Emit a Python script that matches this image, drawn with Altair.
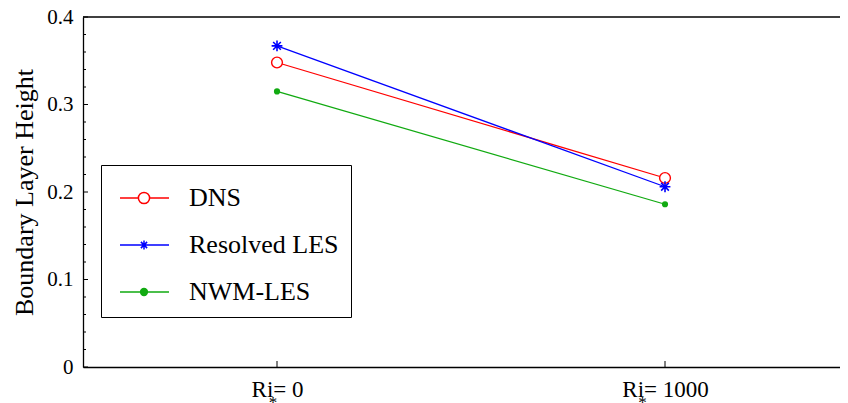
import altair as alt
import pandas as pd

# ---- data ----
series = ["DNS", "Resolved LES", "NWM-LES"]
x_pos = [1, 2]
x_labels = ["Ri= 0", "Ri= 1000"]
x_sub = ["*", "*"]
dns = [0.348, 0.216]
les = [0.367, 0.206]
nwm = [0.315, 0.186]
colors = ["#ff0000", "#0000ff", "#11aa11"]

y_major = [0, 0.1, 0.2, 0.3, 0.4]
y_minor = [0.02, 0.04, 0.06, 0.08, 0.12, 0.14, 0.16, 0.18, 0.22, 0.24, 0.26,
           0.28, 0.32, 0.34, 0.36, 0.38]

rows = []
for name, vals in zip(series, [dns, les, nwm]):
    for xp, v in zip(x_pos, vals):
        rows.append({"series": name, "x": xp, "value": v})
df = pd.DataFrame(rows)

FONT = "Times New Roman, Liberation Serif, serif"
xscale = alt.Scale(domain=[0.5, 2.451], nice=False, zero=False)
yscale = alt.Scale(domain=[0, 0.4], nice=False)

label_expr = " : ".join(
    [f"datum.value == {p} ? '{l}'" for p, l in zip(x_pos, x_labels)]
) + " : ''"

X = alt.X("x:Q", scale=xscale, title=None,
          axis=alt.Axis(values=x_pos, labelExpr=label_expr, ticks=False, tickSize=0,
                        grid=False, labelFont=FONT, labelFontSize=23, labelColor="black",
                        labelPadding=11, domainColor="black", domainWidth=1.3))
Y = alt.Y("value:Q", scale=yscale, title="Boundary Layer Height",
          axis=alt.Axis(values=y_major, format="~g", ticks=False, tickSize=0, grid=False,
                        labelFont=FONT, labelFontSize=21, labelColor="black",
                        labelPadding=10, domainColor="black", domainWidth=1.3,
                        titleFont=FONT, titleFontSize=26, titleFontWeight="normal",
                        titleColor="black", titlePadding=9))

base = alt.Chart(df)

lines = base.mark_line(strokeWidth=1.3).encode(
    x=X, y=Y,
    color=alt.Color("series:N", scale=alt.Scale(domain=series, range=colors), legend=None),
    detail="series:N",
)

circle_path = "M0.9,0A0.9,0.9 0 1 1 -0.9,0A0.9,0.9 0 1 1 0.9,0Z"
star_path = ("M0,-0.9V0.9M-0.9,0H0.9M-0.64,-0.64L0.64,0.64M-0.64,0.64L0.64,-0.64")

pts_dns = base.transform_filter(alt.datum.series == "DNS").mark_point(
    shape=circle_path, size=144, stroke=colors[0], fill="white", fillOpacity=1,
    strokeWidth=1.4, opacity=1).encode(x=X, y=Y)
pts_les = base.transform_filter(alt.datum.series == "Resolved LES").mark_point(
    shape=star_path, size=144, stroke=colors[1], strokeWidth=1.6, opacity=1,
    filled=False).encode(x=X, y=Y)
pts_nwm = base.transform_filter(alt.datum.series == "NWM-LES").mark_point(
    shape="circle", size=38, color=colors[2], filled=True, opacity=1).encode(x=X, y=Y)

# legend symbols: line + marker, in symbol units
c = 0.5
L0, L1 = -0.7, 1.75
rc = 0.28
leg_dns = (f"M{L0},0H{c - rc}M{c + rc},0H{L1}"
           f"M{c + rc},0A{rc},{rc} 0 1 1 {c - rc},0A{rc},{rc} 0 1 1 {c + rc},0")
a, d = 0.22, 0.156
leg_les = (f"M{L0},0H{L1}M{c},{-a}V{a}M{c - a},0H{c + a}"
           f"M{c - d},{-d}L{c + d},{d}M{c - d},{d}L{c + d},{-d}")
dot = ""
for r in [0.17, 0.12, 0.07, 0.02]:
    dot += f"M{c + r},0A{r},{r} 0 1 1 {c - r},0A{r},{r} 0 1 1 {c + r},0"
leg_nwm = f"M{L0},0H{L1}" + dot

leg_kw = dict(title=None, orient="none", legendX=18, legendY=148, padding=12,
              rowPadding=13, symbolSize=1600, labelOffset=34, labelFont=FONT,
              labelFontSize=26, labelColor="black", strokeColor="black",
              fillColor="white", symbolStrokeWidth=1.5,
              labelExpr="datum.label + '\u00a0'")

legend_layer = base.transform_filter("false").mark_point(
    filled=False, strokeWidth=1.5, opacity=1).encode(
    x=X, y=Y,
    color=alt.Color("series:N", scale=alt.Scale(domain=series, range=colors),
                    legend=alt.Legend(**leg_kw)),
    shape=alt.Shape("series:N", scale=alt.Scale(domain=series,
                    range=[leg_dns, leg_les, leg_nwm]), legend=alt.Legend(**leg_kw)),
)

# inward ticks
yt_major = alt.Chart(pd.DataFrame({"value": y_major})).mark_rule(
    color="black", strokeWidth=1).encode(y=alt.Y("value:Q", scale=yscale),
                                          x=alt.value(0), x2=alt.value(5))
yt_minor = alt.Chart(pd.DataFrame({"value": y_minor})).mark_rule(
    color="black", strokeWidth=1).encode(y=alt.Y("value:Q", scale=yscale),
                                          x=alt.value(0), x2=alt.value(3))
xt = alt.Chart(pd.DataFrame({"x": x_pos})).mark_rule(
    color="black", strokeWidth=1).encode(x=alt.X("x:Q", scale=xscale),
                                          y=alt.value(350), y2=alt.value(344))
top = alt.Chart(pd.DataFrame({"value": [0.4]})).mark_rule(
    color="black", strokeWidth=1.3).encode(y=alt.Y("value:Q", scale=yscale))

# subscript asterisks of the x tick labels
sub_df = pd.DataFrame({"x": x_pos, "t": x_sub})
sub_layers = []
for i, off in enumerate([-4, -22.5]):
    sub_layers.append(
        alt.Chart(sub_df).transform_filter(alt.datum.x == x_pos[i]).mark_text(
            font=FONT, fontSize=17, color="black", dx=off, baseline="alphabetic",
            align="center", clip=False).encode(
            x=alt.X("x:Q", scale=xscale), y=alt.value(391), text="t:N"))

chart = alt.layer(
    top, yt_major, yt_minor, xt, lines, pts_dns, pts_les, pts_nwm, legend_layer,
    *sub_layers
).resolve_scale(color="independent", shape="independent").properties(
    width=757, height=350, autosize="none",
    padding={"left": 75, "top": 9, "right": 0, "bottom": 36},
    background="white",
).configure_view(stroke=None)

chart.save("out.html", embed_options={"renderer": "svg", "actions": False})
